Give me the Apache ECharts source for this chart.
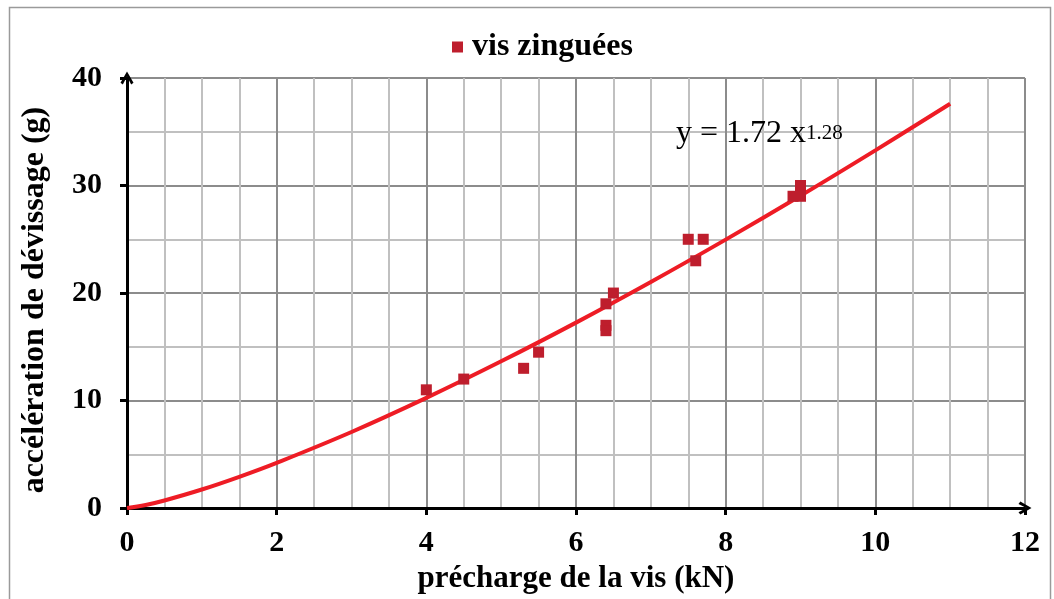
<!DOCTYPE html>
<html><head><meta charset="utf-8">
<script src="https://cdn.jsdelivr.net/npm/echarts@6/dist/echarts.min.js"></script>
<style>html,body{margin:0;padding:0;background:#fff}#c{width:1054px;height:599px}</style>
</head><body><div id="c"></div>
<script>
// Measured points: précharge (kN), accélération (g)
const xPrecharge = [4.0, 4.5, 5.3, 5.5, 6.4, 6.4, 6.4, 6.5, 7.5, 7.7, 7.6, 8.9, 9.0, 9.0];
const yAcceleration = [11, 12, 13, 14.5, 19, 17, 16.5, 20, 25, 25, 23, 29, 30, 29];
// Trend line points (label: y = 1.72 x^1.28)
const trendX = [0, 0.25, 0.5, 1, 1.5, 2, 3, 4, 5, 6, 7, 8, 9, 10, 11];
const trendY = [0, 0.29, 0.71, 1.73, 2.91, 4.21, 7.08, 10.25, 13.65, 17.25, 21.03, 24.97, 29.05, 33.27, 37.6];
const xTicks = [0, 2, 4, 6, 8, 10, 12];
const yTicks = [0, 10, 20, 30, 40];
const seriesName = 'vis zinguées';
const xName = 'précharge de la vis (kN)';
const yName = 'accélération de dévissage (g)';
const eqMain = 'y = 1.72 x';
const eqExp = '1.28';

const font = "'Liberation Serif', 'Times New Roman', serif";
const arrow = 'path://M7,0 L14,12 L11.5,14 L7,5.5 L2.5,14 L0,12 Z';
const chart = echarts.init(document.getElementById('c'));
const axisCommon = {
  axisLine: {show: true, onZero: false, symbol: ['none', arrow], symbolSize: [13, 15], lineStyle: {color: '#000', width: 3}},
  axisTick: {show: true, length: 7, lineStyle: {color: '#000', width: 3}},
  axisLabel: {color: '#000', fontFamily: font, fontWeight: 'bold', fontSize: 30},
  splitLine: {show: true, lineStyle: {color: '#8c8c8c', width: 2}},
  minorSplitLine: {show: true, lineStyle: {color: '#c0c0c0', width: 2}},
  nameLocation: 'middle',
  nameTextStyle: {color: '#000', fontFamily: font, fontWeight: 'bold', fontSize: 31}
};
chart.setOption({
  animation: false,
  backgroundColor: '#fff',
  grid: {left: 127, right: 29, top: 78, bottom: 89, containLabel: false},
  legend: {
    data: [{name: seriesName, icon: 'rect'}],
    top: 31, left: 452, padding: 0, itemWidth: 11, itemHeight: 11,
    textStyle: {color: '#000', fontFamily: font, fontWeight: 'bold', fontSize: 32, padding: [0, 0, 0, 4]}
  },
  xAxis: Object.assign({}, axisCommon, {
    type: 'value', min: xTicks[0], max: xTicks[xTicks.length - 1], interval: 2,
    minorTick: {show: false, splitNumber: 4},
    axisLabel: Object.assign({}, axisCommon.axisLabel, {margin: 20}),
    name: xName, nameGap: 48
  }),
  yAxis: Object.assign({}, axisCommon, {
    type: 'value', min: yTicks[0], max: yTicks[yTicks.length - 1], interval: 10,
    minorTick: {show: false, splitNumber: 2},
    axisLabel: Object.assign({}, axisCommon.axisLabel, {margin: 25}),
    name: yName, nameGap: 76,
    nameTextStyle: Object.assign({}, axisCommon.nameTextStyle, {fontSize: 32, padding: [0, 14, 0, 0]})
  }),
  graphic: [
    {type: 'rect', left: 7, top: 5, silent: true, z: -10,
     shape: {width: 1041, height: 610}, style: {fill: 'none', stroke: '#9a9a9a', lineWidth: 1.5}},
    {type: 'text', left: 676, top: 118, z: 100,
     style: {text: eqMain, font: "32px 'Liberation Serif', serif", fill: '#000'}},
    {type: 'text', left: 806, top: 123, z: 100,
     style: {text: eqExp, font: "21px 'Liberation Serif', serif", fill: '#000'}}
  ],
  series: [
    {
      name: 'trend', type: 'line', data: trendX.map((x, i) => [x, trendY[i]]),
      smooth: 0.4, showSymbol: false, symbol: 'none',
      lineStyle: {color: '#ee1c25', width: 4}, z: 3
    },
    {
      name: seriesName, type: 'scatter', data: xPrecharge.map((x, i) => [x, yAcceleration[i]]),
      symbol: 'rect', symbolSize: 11, itemStyle: {color: '#be1e2d', opacity: 1}, z: 4
    }
  ]
});
</script></body></html>
